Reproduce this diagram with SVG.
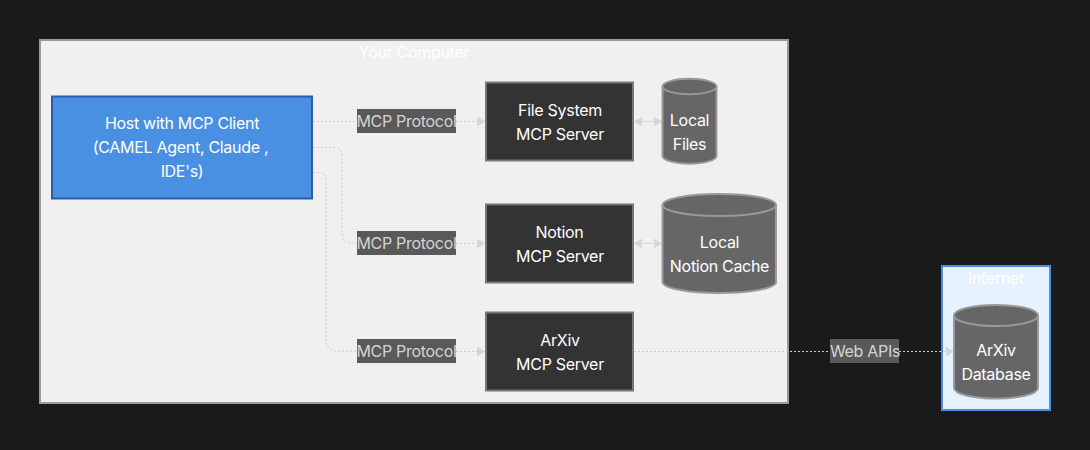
<svg xmlns="http://www.w3.org/2000/svg" width="1090" height="450" viewBox="0 0 1090 450">
<style>
text{font-family:"Inter","Liberation Sans",sans-serif;font-size:16px;text-anchor:middle;letter-spacing:-.3px}
.n{fill:#fff}
.srv{fill:#333;stroke:#777;stroke-width:2}
.cyl{fill:#666;stroke:#999;stroke-width:2}
.top{fill:none;stroke:#999;stroke-width:2}
.e{fill:none;stroke:#ccc;stroke-width:1;stroke-dasharray:2 2}
.e2{fill:none;stroke:#d6d6d6;stroke-width:1}
.lb{fill:#595959}
.ll{fill:#d4d4d4}
.ah{fill:#d6d6d6}
</style>
<defs>
<marker id="a" markerUnits="userSpaceOnUse" markerWidth="9" markerHeight="10" refX="8" refY="5" orient="auto-start-reverse"><path class="ah" d="M0 0L8 5L0 10z"/></marker>
</defs>
<rect width="1090" height="450" fill="#1a1a1a"/>
<g id="your-computer"><rect x="40" y="40" width="748" height="363" fill="#f0f0f0" stroke="#999" stroke-width="2"/><text x="414" y="58" fill="#fff">Your Computer</text></g>
<g id="internet"><rect x="942" y="266" width="108" height="144" fill="#e6f2ff" stroke="#4a90e2" stroke-width="2"/><text x="996" y="284" fill="#fff">Internet</text></g>
<g id="connectors">
<path class="e" d="M313 121.500H357"/>
<path class="e" marker-end="url(#a)" d="M456 121.500H485"/>
<path class="e" d="M313 147.300H333Q342 147.300 342 156V234Q342 243 351 243H357"/>
<path class="e" marker-end="url(#a)" d="M456 243.500H485"/>
<path class="e" d="M313 172.700H319Q326 172.700 326 180V342Q328 351 336 351H357"/>
<path class="e" marker-end="url(#a)" d="M456 351.500H485"/>
<path class="e2" marker-start="url(#a)" marker-end="url(#a)" d="M634 121.500H662"/>
<path class="e2" marker-start="url(#a)" marker-end="url(#a)" d="M634 243.500H662"/>
<path class="e" d="M634 351.500H831"/>
<path class="e" marker-end="url(#a)" d="M899 351.500H954"/>
<g id="edge-labels">
<rect class="lb" x="357" y="109" width="99" height="24"/><text class="ll" x="406.500" y="127">MCP Protocol</text>
<rect class="lb" x="357" y="231" width="99" height="24"/><text class="ll" x="406.500" y="249">MCP Protocol</text>
<rect class="lb" x="357" y="339" width="99" height="24"/><text class="ll" x="406.500" y="357">MCP Protocol</text>
<rect class="lb" x="830" y="339" width="69" height="24"/><text class="ll" x="865" y="357">Web APIs</text>
</g>
</g>
<g id="host"><rect x="52" y="96.500" width="260" height="102" fill="#4a90e2" stroke="#2a5ca8" stroke-width="2"/><text class="n" x="182" y="129">Host with MCP Client</text><text class="n" x="180.500" y="153">(CAMEL Agent, Claude ,</text><text class="n" x="182" y="177">IDE's)</text></g>
<g id="fs-server"><rect class="srv" x="486" y="82.500" width="147" height="78"/><text class="n" x="560" y="116">File System</text><text class="n" x="560" y="140">MCP Server</text></g>
<g id="notion-server"><rect class="srv" x="486" y="204.500" width="147" height="78"/><text class="n" x="559.500" y="238">Notion</text><text class="n" x="560" y="262">MCP Server</text></g>
<g id="arxiv-server"><rect class="srv" x="486" y="312.500" width="147" height="78"/><text class="n" x="560" y="346">ArXiv</text><text class="n" x="560" y="370">MCP Server</text></g>
<g id="local-files"><path class="cyl" d="M662.500 86.500A26.500 7.500 0 0 1 716.500 86.500V156A26.500 7.500 0 0 1 662.500 156Z"/><path class="top" d="M662.500 86.500A26.500 7.500 0 0 0 716.500 86.500"/><text class="n" x="689.500" y="126">Local</text><text class="n" x="689.500" y="150">Files</text></g>
<g id="notion-cache"><path class="cyl" d="M662.500 205A56.500 11 0 0 1 776 205V282A56.500 11 0 0 1 662.500 282Z"/><path class="top" d="M662.500 205A56.500 11 0 0 0 776 205"/><text class="n" x="719.500" y="248">Local</text><text class="n" x="719.500" y="272">Notion Cache</text></g>
<g id="arxiv-db"><path class="cyl" d="M954 315.500A42 10.500 0 0 1 1038 315.500V388A42 10.500 0 0 1 954 388Z"/><path class="top" d="M954 315.500A42 10.500 0 0 0 1038 315.500"/><text class="n" x="996" y="356">ArXiv</text><text class="n" x="996" y="380">Database</text></g>
</svg>
